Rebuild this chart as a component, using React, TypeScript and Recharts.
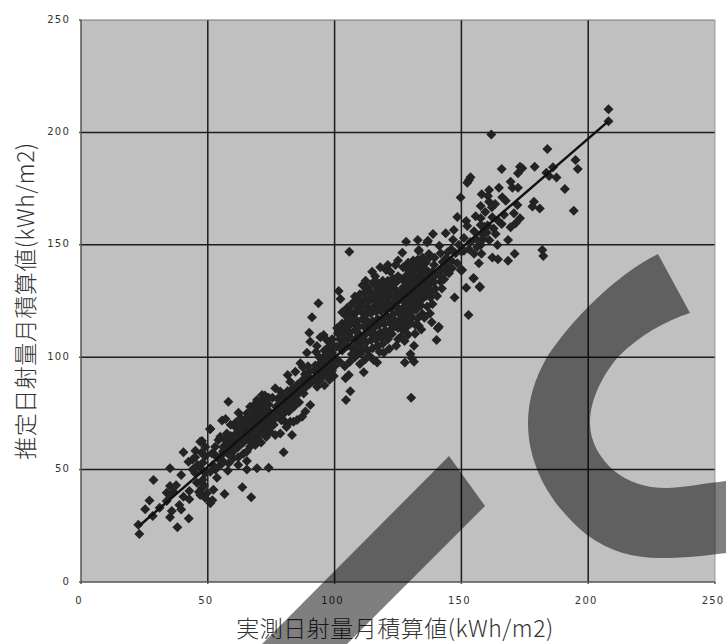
import React from "react"
import {
  ScatterChart,
  Scatter,
  XAxis,
  YAxis,
  CartesianGrid,
  ReferenceLine,
} from "recharts"

type Pair = [number, number]

const axisTicks = [0, 50, 100, 150, 200, 250]
const xTitle = "実測日射量月積算値(kWh/m2)"
const yTitle = "推定日射量月積算値(kWh/m2)"

// [measured, estimated], walking up the diagonal
const band20to50: Pair[] = [
  [23, 21.4], [22.6, 25.5], [25.3, 32.4], [28.3, 29.4], [27, 36.3], [28.6, 45.4], [35.1, 50.6], [35.1, 42.7],
  [38, 24.3], [42.5, 28.3], [35.1, 28.8], [35.8, 31.6], [39.5, 32.3], [38.8, 34.3], [33.8, 39.7], [35.1, 38.7],
  [33.8, 36], [39.5, 47.6], [40.4, 37.9], [42.7, 36.8], [42.7, 40.5], [47, 38.7], [45.7, 44.2], [47.7, 41.8],
  [49.6, 39.5], [49, 37.4], [45, 48.5], [47, 50.7], [42.4, 53.5], [44, 54.5], [40.4, 57.7], [45.1, 58.4],
  [47, 62.4], [49, 48.4], [48, 53], [46, 52], [44, 50], [48, 45.5], [46.5, 40], [48.5, 43],
  [47.7, 62.7], [45, 55.5], [49, 56], [47.5, 57.5], [49, 60], [36.5, 40], [37.5, 43], [31, 33],
]

const band50to75: Pair[] = [
  [51, 35], [51.8, 36.4], [52.2, 41], [53.6, 46.4], [56.6, 39.1], [56.2, 53.5], [58.2, 52.8], [57.9, 49.5],
  [52.3, 57.2], [54.2, 63.2], [51, 68.2], [58.1, 80.2], [62.1, 75.3], [55.6, 71.8], [57, 72.5], [50.9, 67.9],
  [65.4, 50.1], [69.4, 50.6], [74, 50.8], [67.1, 37.7], [63.6, 42.1], [65.4, 53.8], [62, 52], [60, 55],
  [51.6, 57.2], [52.9, 60.2], [54.9, 64.6], [57.5, 66.1], [60.8, 69.1], [64.1, 70.6], [65.4, 75], [66.7, 78],
  [69.4, 81], [71.4, 83.2], [68.7, 60.9], [66.7, 60.2], [65.4, 58], [72, 66.9], [64, 57], [62, 55.5],
  [60, 58], [58, 57], [56, 58], [54, 55], [52, 52], [51, 49], [53, 50], [55, 52],
  [56, 60], [58, 61], [60, 62], [62, 60], [64, 62], [66, 64], [68, 64], [70, 65],
  [57, 63], [59, 65], [61, 66], [63, 67], [65, 68], [67, 68], [69, 69], [71, 70],
  [59, 70], [61, 71], [63, 73], [65, 71.5], [67, 72], [69, 73], [71, 74], [73, 74],
  [67, 75], [69, 76], [71, 77], [73, 77], [74, 79], [72, 80], [70, 78.5], [68, 77],
  [60, 63.5], [62, 64.5], [64, 65.5], [66, 67], [68, 71], [70, 71.5], [72, 71], [74, 72],
  [74, 68], [73, 64.5], [71, 62], [69.5, 62.5], [67, 62], [74.5, 75.5], [74, 82], [72.5, 83],
  [59.4, 60.3], [61.3, 61.7], [63.2, 64.1], [65.3, 65.8], [67.4, 66.2], [69.3, 67.1], [70.6, 68.3], [72.7, 69.2],
  [62.6, 68.7], [64.7, 69.8], [66.4, 70.2], [68.3, 73.4], [69.8, 74.9], [71.6, 75.6], [73.3, 75.8], [66.2, 73.6],
  [68.6, 79.2], [70.4, 80.1], [72.8, 78.6], [73.7, 70.4], [75, 73.2], [74.6, 66.7], [55.3, 56.3], [57.3, 59.1],
]

const band75to100: Pair[] = [
  [76.6, 86.2], [78.6, 84.7], [81.5, 92.1], [82.5, 89.1], [84.5, 93.5], [86.5, 97.3], [87.5, 95.5], [89.5, 96],
  [92, 94], [89.1, 102], [92.7, 102.3], [90.4, 106.9], [90, 110.9], [91.1, 117.8], [93.6, 124], [95.7, 109.9],
  [94.4, 108.9], [79.9, 57.7], [83.2, 65.4], [85.2, 72.1], [82.5, 71.3], [80.5, 71.3], [90.4, 78.7], [88.5, 75.8],
  [87.2, 73.5], [87.8, 83.9], [93.1, 86.9], [78.6, 66.1], [76.6, 65.4], [83.8, 71.3], [81, 69], [79, 72],
  [76, 70], [78, 75], [80, 75], [82, 76], [84, 78], [86, 80], [76, 75], [77, 78],
  [79, 79], [81, 80], [83, 81], [85, 83], [87, 87], [75.5, 82], [77.5, 81.5], [79.5, 83],
  [81.5, 85], [83.5, 86], [85.5, 88], [87.5, 90], [89.5, 91], [91.5, 89.5], [93.5, 92], [95, 91],
  [88, 86], [90, 88], [92, 90], [94, 95], [96, 96], [98, 97], [99, 94], [97, 92.5],
  [95, 98], [97, 100], [99, 102], [98, 105], [96, 103], [94, 100], [93, 105], [99, 108],
  [97, 107.5], [99.5, 99], [100, 96], [98, 90], [96, 87.5],
  [76.3, 72.6], [77.7, 76.8], [80.6, 77.4], [82.7, 79.3], [84.4, 81.2], [86.3, 84.6], [88.6, 88.2], [90.7, 90.3],
  [78.3, 78.2], [80.2, 81.6], [82.3, 83.1], [84.2, 85.3], [86.1, 86.8], [88.3, 92.4], [90.2, 93.7], [92.4, 96.3],
  [94.3, 97.4], [95.8, 100.2], [97.6, 102.8], [99.2, 104.6], [93.6, 89.2], [95.6, 93.4], [97.4, 95.7], [99.7, 91.6],
]

const band100to125: Pair[] = [
  [101.6, 129.4], [102.3, 125.9], [105.8, 146.9], [104.5, 81], [106.2, 84.8], [111.5, 93.3], [105.6, 92.1], [104.3, 90.6],
  [116.8, 97.6], [115.4, 98.8], [119.4, 102], [124.3, 105.1], [114.8, 138], [120.3, 138.8], [112.2, 134], [100, 100],
  [102, 98], [104, 96], [106, 98], [108, 100], [110, 97], [112, 99], [103, 103], [105, 105],
  [107, 104], [109, 106], [111, 104], [113, 103], [115, 104], [117, 105], [119, 106], [121, 108],
  [102, 108], [104, 110], [106, 111], [108, 112], [110, 110], [112, 110], [114, 111], [116, 110],
  [118, 111], [120, 112], [122, 112], [124, 114], [101, 113], [103, 115], [105, 116], [107, 118],
  [109, 116], [111, 117], [113, 116], [115, 116], [117, 117], [119, 117], [121, 118], [123, 119],
  [125, 120], [103, 120], [105, 122], [107, 124], [109, 122], [111, 123], [113, 122], [115, 122],
  [117, 123], [119, 123], [121, 124], [123, 124], [125, 125], [108, 127], [110, 128], [112, 129],
  [114, 127], [116, 128], [118, 129], [120, 129], [122, 130], [124, 130], [111, 132], [113, 131],
  [115, 133], [117, 133], [119, 134], [121, 134], [123, 135], [125, 136], [116, 136], [122, 138],
  [124, 141], [121, 141], [118, 140], [125, 143],
  [100.7, 104.6], [102.6, 105.7], [104.6, 107.4], [106.3, 108.6], [108.4, 108.2], [110.6, 107.3], [112.5, 106.6], [114.4, 107.7],
  [116.3, 107.8], [118.4, 108.6], [120.3, 109.7], [122.6, 110.3], [101.3, 110.7], [103.4, 112.3], [105.4, 113.7], [107.6, 115.2],
  [109.5, 113.6], [111.4, 113.8], [113.6, 113.6], [115.7, 113.2], [117.6, 114.4], [119.6, 114.8], [121.7, 115.4], [123.6, 116.6],
  [104.3, 118.6], [106.4, 120.3], [108.3, 119.7], [110.4, 120.4], [112.6, 119.3], [114.3, 119.6], [116.4, 120.3], [118.3, 120.6],
  [120.4, 121.2], [122.4, 121.7], [124.6, 122.3], [109.6, 125.2], [111.7, 125.6], [113.4, 124.8], [115.6, 125.3], [117.5, 125.7],
  [119.4, 126.4], [121.5, 126.7], [123.4, 127.3], [125.3, 128.2], [113.7, 129.6], [116.7, 130.7], [118.6, 131.4], [120.7, 131.8],
  [122.6, 132.6], [124.4, 133.4], [108.7, 102.3], [113.6, 100.8], [117.7, 102.4], [121.6, 103.8], [106.8, 101.3], [110.3, 101.6],
]

const band125to150: Pair[] = [
  [128.2, 151.4], [132.8, 152.1], [136.8, 151.8], [138.8, 154.8], [133.2, 147.2], [137.2, 145.9], [141.8, 146.2], [126.7, 146.5],
  [136.5, 151], [133.2, 147.7], [130.2, 82], [131.3, 105.1], [129.9, 101.4], [131.3, 98], [127.7, 97.6], [130.5, 99.5],
  [133.2, 114], [140.2, 107.7], [140.7, 112.9], [132.8, 117.3], [131.9, 114.3], [136.5, 122.5], [137.8, 126.6], [141.8, 133.6],
  [143.8, 138], [139.2, 141], [147.3, 126.6], [141.1, 113.6], [143.8, 155.1], [147, 156.6], [148.4, 162.4], [149.7, 171],
  [148.4, 141.8], [149.7, 138.8], [144, 144], [126, 117], [128, 118], [130, 120], [132, 121], [134, 123],
  [127, 122], [129, 123], [131, 125], [133, 126], [135, 128], [137, 130], [126, 126], [128, 127],
  [130, 129], [132, 130], [134, 132], [136, 134], [138, 135], [140, 137], [127, 131], [129, 132],
  [131, 134], [133, 135], [135, 137], [137, 138], [126, 135], [128, 136], [130, 138], [132, 140],
  [134, 141], [136, 142], [127, 140], [129, 142], [131, 143], [125, 113], [127, 112], [129, 110],
  [126, 109], [128, 113], [130, 115], [125, 108], [142, 139], [144, 141], [146, 148], [149, 150],
  [146, 143], [150, 147],
  [126.6, 119.7], [128.6, 120.6], [130.6, 122.4], [132.4, 124.2], [134.4, 125.7], [136.2, 127.3], [138.3, 129.2], [127.4, 124.8],
  [129.4, 125.6], [131.4, 127.3], [133.4, 128.6], [135.3, 130.4], [137.4, 132.3], [139.3, 133.6], [126.4, 128.7], [128.4, 129.4],
  [130.3, 131.6], [132.3, 132.7], [134.3, 134.6], [136.4, 136.2], [138.4, 137.8], [127.7, 133.6], [129.7, 134.7], [131.6, 136.3],
  [133.6, 138.2], [135.6, 139.4], [128.6, 139.2], [130.7, 140.4], [132.7, 143.3], [134.7, 144.3], [136.7, 143.6], [126.3, 115.2],
  [128.7, 115.7], [130.7, 117.7], [134.6, 119.3], [127.6, 107.2], [131.7, 110.4],
  [138.6, 123.7], [140.4, 127.2], [142.3, 130.6], [139.7, 130.4], [141.4, 136.2], [143.2, 134.7], [145.1, 137.3], [137.6, 119.4],
  [135.4, 117.6], [138.3, 115.6], [134.2, 112.3], [146.3, 139.6], [144.6, 146.7], [147.7, 146.2], [142.6, 142.4], [139.4, 144.2],
  [141.3, 149.6], [146.7, 152.3],
]

const band150to210: Pair[] = [
  [208, 210.3], [208, 205], [161.8, 199.1], [183.9, 192.6], [195, 187.7], [195.9, 183.7], [178.9, 184.7], [173.1, 184.7],
  [172.3, 181.8], [174, 184], [165.9, 183.7], [186.1, 184.5], [183.5, 182.1], [184.6, 180.6], [187.5, 179.9], [190.8, 174.8],
  [194.3, 165.2], [153.6, 180], [152.3, 177.6], [153, 178.8], [169.4, 178.1], [170.1, 175.4], [172.3, 175.4], [164.8, 175.4],
  [160.9, 174.4], [158, 172.5], [160.5, 171.7], [160.9, 169.2], [157.6, 167.3], [162, 166.7], [166.1, 171.1], [167.5, 169.6],
  [172.1, 167.7], [178.6, 169.2], [178, 167], [180.9, 166.2], [151.9, 160.6], [152.3, 158.4], [157.6, 161.8], [162.2, 162.2],
  [165.9, 159.3], [170.7, 164], [173.1, 161.8], [171.4, 159.6], [169.4, 157.8], [157.6, 158.8], [163.5, 154.8], [168.4, 152.1],
  [164.2, 149.9], [157.6, 149.9], [181.9, 147.7], [182.3, 145], [171, 146], [168.4, 142.9], [162.2, 144.3], [164.4, 143.6],
  [157.9, 146], [156.9, 141.8], [154.7, 135.1], [157.2, 131.4], [151.9, 130.9], [151, 147.4], [152.8, 118.8], [154.9, 135.1],
  [150.3, 138.8], [157.3, 131.1], [159, 158], [160, 155.5], [155, 156], [158, 155], [161, 152], [156, 152.5],
  [153, 148], [155, 146], [151, 153], [153.6, 151.2], [156.2, 149], [158.7, 152.6], [160.3, 158.6], [162.7, 157.3],
  [164.6, 160.6], [166.8, 163.4], [155.6, 162.7], [159.4, 164.6], [163.3, 168.2],
]

const measuredEstimated = [
  ...band20to50,
  ...band50to75,
  ...band75to100,
  ...band100to125,
  ...band125to150,
  ...band150to210,
].map(([measured, estimated]) => ({ measured, estimated }))

const fitLine = [
  { measured: 23, estimated: 25 },
  { measured: 208, estimated: 205 },
]

function DiamondMark(props: any) {
  const { cx, cy } = props
  const r = 5
  return <polygon points={`${cx},${cy - r} ${cx + r},${cy} ${cx},${cy + r} ${cx - r},${cy}`} fill="#232323" />
}

const tickStyle = { fontSize: 10, fill: "#333", fontFamily: "DejaVu Sans", letterSpacing: 1.2 }
const titleStyle = { fontSize: 23, fill: "#333", fontFamily: "Noto Sans CJK JP", fontWeight: 300, letterSpacing: 0.5 }

export default function App() {
  return (
    <div style={{ position: "absolute", left: 0, top: 0, width: 726, height: 644, overflow: "hidden", background: "#fff" }}>
      <ScatterChart width={726} height={644} margin={{ top: 20, right: 11, bottom: 0, left: 0 }}>
        <CartesianGrid
          fill="#c0c0c0"
          stroke="#1c1c1c"
          strokeWidth={1.5}
          horizontalValues={[50, 100, 150, 200]}
          verticalValues={[50, 100, 150, 200]}
        />
        <XAxis
          type="number"
          dataKey="measured"
          domain={[0, 250]}
          ticks={axisTicks}
          height={62}
          stroke="#555"
          strokeWidth={1.5}
          tickSize={2}
          tickMargin={13}
          tick={{ ...tickStyle, dx: -2 }}
          label={{ value: xTitle, position: "insideBottom", offset: 7, dx: -3, style: titleStyle }}
        />
        <YAxis
          type="number"
          dataKey="estimated"
          domain={[0, 250]}
          ticks={axisTicks}
          width={81}
          stroke="#555"
          strokeWidth={1.5}
          tickSize={2}
          tickMargin={9}
          tick={{ ...tickStyle, dy: -1 }}
          label={{ value: yTitle, angle: -90, position: "insideLeft", offset: 26, dy: 0, style: { ...titleStyle, textAnchor: "middle" } }}
        />
        <ReferenceLine y={250} stroke="#777" />
        <ReferenceLine x={250} stroke="#999" />
        <Scatter data={measuredEstimated} shape={DiamondMark} isAnimationActive={false} />
        <Scatter
          data={fitLine}
          line={{ stroke: "#111", strokeWidth: 2.5 }}
          shape={() => <g />}
          isAnimationActive={false}
        />
      </ScatterChart>
      {/* watermark sitting on top of the whole picture */}
      <svg width={726} height={644} style={{ position: "absolute", left: 0, top: 0, pointerEvents: "none" }}>
        <polygon points="449,456 485,506 347,644 262,644" fill="#000" fillOpacity={0.5} />
        <path
          d="M658,254 C615,275 570,322 547,357 C535,378 528,400 528,423 C528,465 550,505 587,535 C610,552 635,558 660,558 C680,558 705,556 726,553 L726,481 C700,484 680,488 667,488 C645,488 628,482 613,470 C600,458 590,442 590,423 C590,400 602,376 618,357 C640,335 665,321 690,313 Z"
          fill="#000"
          fillOpacity={0.5}
        />
      </svg>
    </div>
  )
}
